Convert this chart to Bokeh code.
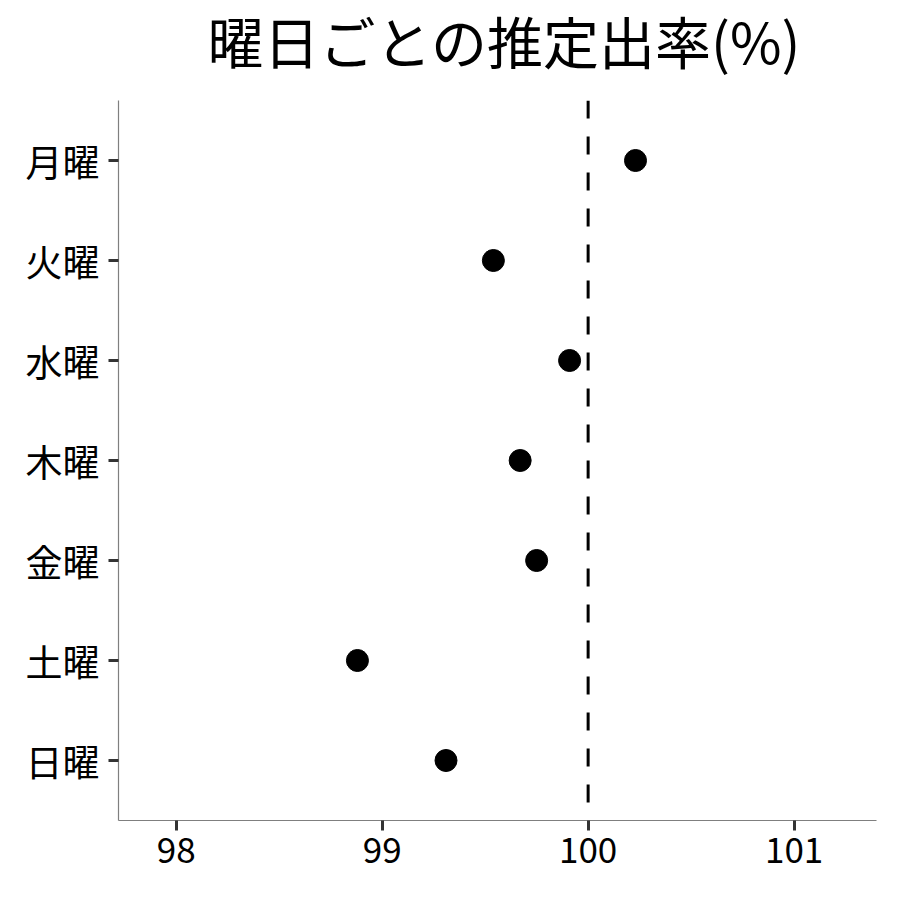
from bokeh.plotting import figure
from bokeh.layouts import column
from bokeh.models import FactorRange, Range1d, FixedTicker, Span, Label
from bokeh.embed import file_html
from bokeh.resources import INLINE

days = ["月曜", "火曜", "水曜", "木曜", "金曜", "土曜", "日曜"]
rates = [100.23, 99.54, 99.91, 99.67, 99.75, 98.88, 99.31]
ref_value = 100
x_ticks = [98, 99, 100, 101]
title_text = "曜日ごとの推定出率(%)"

FONT = "Noto Sans CJK JP"
W = 892
TITLE_H = 100
PLOT_H = 792
BL, BR, BB = 118, 16, 72

# title strip
t = figure(width=W, height=TITLE_H, x_range=Range1d(0, W), y_range=Range1d(0, TITLE_H),
           x_axis_type=None, y_axis_type=None, output_backend="svg", toolbar_location=None,
           min_border=0)
t.outline_line_color = None
t.xgrid.visible = False
t.ygrid.visible = False
t.add_layout(Label(x=BL + (W - BL - BR) / 2 - 43, y=TITLE_H - 39, text=title_text,
                   text_font=FONT, text_font_size="56px", text_align="center",
                   text_baseline="middle", text_color="black"))

p = figure(
    width=W, height=PLOT_H,
    y_range=FactorRange(factors=list(reversed(days)), range_padding=0.1, range_padding_units="absolute"),
    x_range=Range1d(97.72, 101.4),
    output_backend="svg", toolbar_location=None,
    min_border_left=BL, min_border_right=BR, min_border_top=0, min_border_bottom=BB,
)

p.outline_line_color = None
p.xgrid.visible = False
p.ygrid.visible = False
p.background_fill_color = "white"
p.border_fill_color = "white"

for ax in (p.xaxis[0], p.yaxis[0]):
    ax.axis_line_color = "#7f7f7f"
    ax.axis_line_width = 1.2
    ax.major_tick_line_color = "#333333"
    ax.major_tick_line_width = 3
    ax.major_tick_out = 10
    ax.major_tick_in = 0
    ax.minor_tick_line_color = None
    ax.major_label_text_font = FONT
    ax.major_label_text_color = "black"

p.xaxis[0].major_label_text_font_size = "35px"
p.xaxis[0].major_label_standoff = 6
p.yaxis[0].major_label_text_font_size = "37px"
p.yaxis[0].major_label_standoff = 9

p.xaxis[0].ticker = FixedTicker(ticks=x_ticks)

p.add_layout(Span(location=ref_value, dimension="height", line_color="black",
                  line_width=3, line_dash="18 18"))

p.scatter(x=rates, y=days, size=22, fill_color="black", line_color="black")

layout = column(t, p, spacing=0)
open("out.html", "w").write(file_html(layout, INLINE))
